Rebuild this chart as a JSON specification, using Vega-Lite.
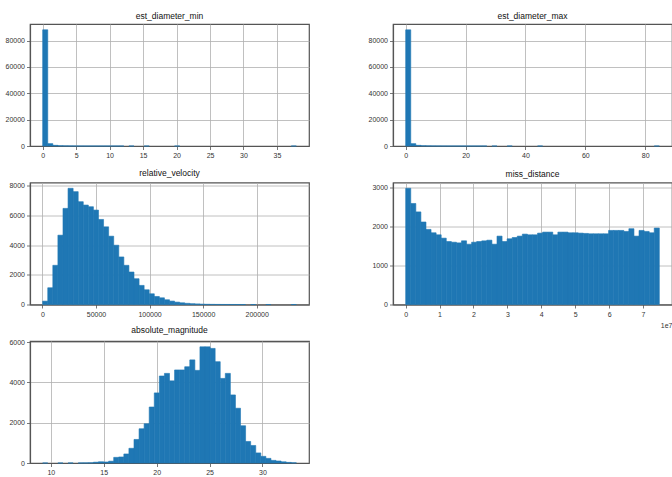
{
  "$schema": "https://vega.github.io/schema/vega-lite/v6.json",
  "padding": {"left": 4, "top": 10, "right": 0, "bottom": 0},
  "autosize": {"type": "pad"},
  "background": "white",
  "config": {
    "font": "Liberation Sans, sans-serif",
    "view": {"stroke": "#555555", "strokeWidth": 1.2},
    "title": {"font": "Liberation Sans, sans-serif", "fontSize": 8.5, "fontWeight": "normal", "color": "#111111", "offset": 4},
    "axis": {
      "labelFont": "Liberation Sans, sans-serif",
      "labelFontSize": 7,
      "labelColor": "#333333",
      "labelPadding": 2,
      "tickColor": "#555555",
      "tickSize": 3.5,
      "tickWidth": 0.8,
      "domain": true,
      "domainColor": "#555555",
      "domainWidth": 1.2,
      "grid": true,
      "gridColor": "#b0b0b0",
      "gridWidth": 0.8,
      "zindex": 1,
      "format": "d",
      "title": null
    },
    "bar": {"color": "#1f77b4", "stroke": "#1f77b4", "strokeWidth": 0.6}
  },
  "datasets": {
    "d1": [
      {"start": 0.0006, "end": 0.7584, "count": 88150},
      {"start": 0.7584, "end": 1.5163, "count": 1800},
      {"start": 1.5163, "end": 2.2741, "count": 500},
      {"start": 2.2741, "end": 3.032, "count": 180},
      {"start": 3.032, "end": 3.7898, "count": 90},
      {"start": 3.7898, "end": 4.5476, "count": 45},
      {"start": 4.5476, "end": 5.3055, "count": 25},
      {"start": 5.3055, "end": 6.0633, "count": 15},
      {"start": 6.0633, "end": 6.8212, "count": 10},
      {"start": 6.8212, "end": 7.579, "count": 6},
      {"start": 7.579, "end": 8.3369, "count": 4},
      {"start": 8.3369, "end": 9.0947, "count": 3},
      {"start": 9.0947, "end": 9.8525, "count": 2},
      {"start": 9.8525, "end": 10.6104, "count": 2},
      {"start": 10.6104, "end": 11.3682, "count": 1},
      {"start": 11.3682, "end": 12.1261, "count": 1},
      {"start": 12.8839, "end": 13.6418, "count": 1},
      {"start": 15.1574, "end": 15.9153, "count": 1},
      {"start": 19.7045, "end": 20.4623, "count": 1},
      {"start": 37.1348, "end": 37.8927, "count": 1}
    ],
    "d2": [
      {"start": 0.0014, "end": 1.6959, "count": 88150},
      {"start": 1.6959, "end": 3.3905, "count": 1800},
      {"start": 3.3905, "end": 5.0851, "count": 500},
      {"start": 5.0851, "end": 6.7797, "count": 180},
      {"start": 6.7797, "end": 8.4742, "count": 90},
      {"start": 8.4742, "end": 10.1688, "count": 45},
      {"start": 10.1688, "end": 11.8634, "count": 25},
      {"start": 11.8634, "end": 13.558, "count": 15},
      {"start": 13.558, "end": 15.2525, "count": 10},
      {"start": 15.2525, "end": 16.9471, "count": 6},
      {"start": 16.9471, "end": 18.6417, "count": 4},
      {"start": 18.6417, "end": 20.3363, "count": 3},
      {"start": 20.3363, "end": 22.0308, "count": 2},
      {"start": 22.0308, "end": 23.7254, "count": 2},
      {"start": 23.7254, "end": 25.42, "count": 1},
      {"start": 25.42, "end": 27.1146, "count": 1},
      {"start": 28.8091, "end": 30.5037, "count": 1},
      {"start": 33.8929, "end": 35.5875, "count": 1},
      {"start": 44.0604, "end": 45.755, "count": 1},
      {"start": 83.0359, "end": 84.7305, "count": 1}
    ],
    "d3": [
      {"start": 203, "end": 4939, "count": 226},
      {"start": 4939, "end": 9675, "count": 1130},
      {"start": 9675, "end": 14411, "count": 2644},
      {"start": 14411, "end": 19146, "count": 4678},
      {"start": 19146, "end": 23882, "count": 6486},
      {"start": 23882, "end": 28618, "count": 7842},
      {"start": 28618, "end": 33354, "count": 7616},
      {"start": 33354, "end": 38089, "count": 6938},
      {"start": 38089, "end": 42825, "count": 6712},
      {"start": 42825, "end": 47561, "count": 6599},
      {"start": 47561, "end": 52297, "count": 6373},
      {"start": 52297, "end": 57032, "count": 5740},
      {"start": 57032, "end": 61768, "count": 5243},
      {"start": 61768, "end": 66504, "count": 4610},
      {"start": 66504, "end": 71240, "count": 4000},
      {"start": 71240, "end": 75975, "count": 3209},
      {"start": 75975, "end": 80711, "count": 2644},
      {"start": 80711, "end": 85447, "count": 2192},
      {"start": 85447, "end": 90183, "count": 1740},
      {"start": 90183, "end": 94918, "count": 1288},
      {"start": 94918, "end": 99654, "count": 994},
      {"start": 99654, "end": 104390, "count": 723},
      {"start": 104390, "end": 109126, "count": 542},
      {"start": 109126, "end": 113861, "count": 452},
      {"start": 113861, "end": 118597, "count": 320},
      {"start": 118597, "end": 123333, "count": 230},
      {"start": 123333, "end": 128069, "count": 160},
      {"start": 128069, "end": 132804, "count": 115},
      {"start": 132804, "end": 137540, "count": 80},
      {"start": 137540, "end": 142276, "count": 55},
      {"start": 142276, "end": 147012, "count": 40},
      {"start": 147012, "end": 151747, "count": 25},
      {"start": 151747, "end": 156483, "count": 15},
      {"start": 156483, "end": 161219, "count": 10},
      {"start": 161219, "end": 165955, "count": 6},
      {"start": 165955, "end": 170690, "count": 4},
      {"start": 170690, "end": 175426, "count": 3},
      {"start": 175426, "end": 180162, "count": 2},
      {"start": 180162, "end": 184898, "count": 1},
      {"start": 184898, "end": 189633, "count": 1},
      {"start": 194369, "end": 199105, "count": 1},
      {"start": 208576, "end": 213312, "count": 1},
      {"start": 232255, "end": 236991, "count": 1}
    ],
    "d4": [
      {"start": 6746, "end": 1502584, "count": 2979},
      {"start": 1502584, "end": 2998422, "count": 2590},
      {"start": 2998422, "end": 4494260, "count": 2374},
      {"start": 4494260, "end": 5990098, "count": 2115},
      {"start": 5990098, "end": 7485936, "count": 1925},
      {"start": 7485936, "end": 8981774, "count": 1839},
      {"start": 8981774, "end": 10477612, "count": 1787},
      {"start": 10477612, "end": 11973450, "count": 1701},
      {"start": 11973450, "end": 13469288, "count": 1615},
      {"start": 13469288, "end": 14965127, "count": 1597},
      {"start": 14965127, "end": 16460965, "count": 1580},
      {"start": 16460965, "end": 17956803, "count": 1632},
      {"start": 17956803, "end": 19452641, "count": 1546},
      {"start": 19452641, "end": 20948479, "count": 1597},
      {"start": 20948479, "end": 22444317, "count": 1615},
      {"start": 22444317, "end": 23940155, "count": 1632},
      {"start": 23940155, "end": 25435993, "count": 1649},
      {"start": 25435993, "end": 26931831, "count": 1546},
      {"start": 26931831, "end": 28427669, "count": 1753},
      {"start": 28427669, "end": 29923508, "count": 1615},
      {"start": 29923508, "end": 31419346, "count": 1684},
      {"start": 31419346, "end": 32915184, "count": 1718},
      {"start": 32915184, "end": 34411022, "count": 1753},
      {"start": 34411022, "end": 35906860, "count": 1804},
      {"start": 35906860, "end": 37402698, "count": 1787},
      {"start": 37402698, "end": 38898536, "count": 1787},
      {"start": 38898536, "end": 40394374, "count": 1830},
      {"start": 40394374, "end": 41890212, "count": 1856},
      {"start": 41890212, "end": 43386050, "count": 1856},
      {"start": 43386050, "end": 44881889, "count": 1787},
      {"start": 44881889, "end": 46377727, "count": 1856},
      {"start": 46377727, "end": 47873565, "count": 1856},
      {"start": 47873565, "end": 49369403, "count": 1839},
      {"start": 49369403, "end": 50865241, "count": 1839},
      {"start": 50865241, "end": 52361079, "count": 1830},
      {"start": 52361079, "end": 53856917, "count": 1822},
      {"start": 53856917, "end": 55352755, "count": 1813},
      {"start": 55352755, "end": 56848593, "count": 1813},
      {"start": 56848593, "end": 58344431, "count": 1813},
      {"start": 58344431, "end": 59840270, "count": 1813},
      {"start": 59840270, "end": 61336108, "count": 1899},
      {"start": 61336108, "end": 62831946, "count": 1899},
      {"start": 62831946, "end": 64327784, "count": 1899},
      {"start": 64327784, "end": 65823622, "count": 1873},
      {"start": 65823622, "end": 67319460, "count": 1943},
      {"start": 67319460, "end": 68815298, "count": 1753},
      {"start": 68815298, "end": 70311136, "count": 1899},
      {"start": 70311136, "end": 71806974, "count": 1873},
      {"start": 71806974, "end": 73302812, "count": 1839},
      {"start": 73302812, "end": 74798651, "count": 1960}
    ],
    "d5": [
      {"start": 9.23, "end": 9.7094, "count": 1},
      {"start": 10.6682, "end": 11.1476, "count": 1},
      {"start": 11.627, "end": 12.1064, "count": 2},
      {"start": 12.5858, "end": 13.0652, "count": 3},
      {"start": 13.0652, "end": 13.5446, "count": 5},
      {"start": 13.5446, "end": 14.024, "count": 10},
      {"start": 14.024, "end": 14.5034, "count": 40},
      {"start": 14.5034, "end": 14.9828, "count": 60},
      {"start": 14.9828, "end": 15.4622, "count": 50},
      {"start": 15.4622, "end": 15.9416, "count": 90},
      {"start": 15.9416, "end": 16.421, "count": 280},
      {"start": 16.421, "end": 16.9004, "count": 300},
      {"start": 16.9004, "end": 17.3798, "count": 450},
      {"start": 17.3798, "end": 17.8592, "count": 730},
      {"start": 17.8592, "end": 18.3386, "count": 1170},
      {"start": 18.3386, "end": 18.818, "count": 1700},
      {"start": 18.818, "end": 19.2974, "count": 1950},
      {"start": 19.2974, "end": 19.7768, "count": 2780},
      {"start": 19.7768, "end": 20.2562, "count": 3480},
      {"start": 20.2562, "end": 20.7356, "count": 4320},
      {"start": 20.7356, "end": 21.215, "count": 4450},
      {"start": 21.215, "end": 21.6944, "count": 4080},
      {"start": 21.6944, "end": 22.1738, "count": 4620},
      {"start": 22.1738, "end": 22.6532, "count": 4620},
      {"start": 22.6532, "end": 23.1326, "count": 4780},
      {"start": 23.1326, "end": 23.612, "count": 5120},
      {"start": 23.612, "end": 24.0914, "count": 4600},
      {"start": 24.0914, "end": 24.5708, "count": 5770},
      {"start": 24.5708, "end": 25.0502, "count": 5770},
      {"start": 25.0502, "end": 25.5296, "count": 5690},
      {"start": 25.5296, "end": 26.009, "count": 5030},
      {"start": 26.009, "end": 26.4884, "count": 4200},
      {"start": 26.4884, "end": 26.9678, "count": 4450},
      {"start": 26.9678, "end": 27.4472, "count": 3380},
      {"start": 27.4472, "end": 27.9266, "count": 2720},
      {"start": 27.9266, "end": 28.406, "count": 1850},
      {"start": 28.406, "end": 28.8854, "count": 1070},
      {"start": 28.8854, "end": 29.3648, "count": 870},
      {"start": 29.3648, "end": 29.8442, "count": 500},
      {"start": 29.8442, "end": 30.3236, "count": 330},
      {"start": 30.3236, "end": 30.803, "count": 230},
      {"start": 30.803, "end": 31.2824, "count": 130},
      {"start": 31.2824, "end": 31.7618, "count": 100},
      {"start": 31.7618, "end": 32.2412, "count": 60},
      {"start": 32.2412, "end": 32.7206, "count": 30},
      {"start": 32.7206, "end": 33.2, "count": 10}
    ]
  },
  "columns": 2,
  "bounds": "flush",
  "spacing": {"row": 36.5, "column": 84},
  "concat": [
    {
      "title": "est_diameter_min",
      "width": 279, "height": 122,
      "data": {"name": "d1"},
      "mark": {"type": "bar", "color": "#1f77b4"},
      "encoding": {
        "x": {"field": "start", "type": "quantitative", "scale": {"domain": [-1.894, 39.787], "nice": false, "zero": false}, "axis": {"values": [0, 5, 10, 15, 20, 25, 30, 35]}},
        "x2": {"field": "end"},
        "y": {"field": "count", "type": "quantitative", "scale": {"domain": [0, 92558], "nice": false}, "axis": {"values": [0, 20000, 40000, 60000, 80000]}},
        "y2": {"datum": 0}
      }
    },
    {
      "title": "est_diameter_max",
      "width": 279, "height": 122,
      "data": {"name": "d2"},
      "mark": {"type": "bar", "color": "#1f77b4"},
      "encoding": {
        "x": {"field": "start", "type": "quantitative", "scale": {"domain": [-4.235, 88.967], "nice": false, "zero": false}, "axis": {"values": [0, 20, 40, 60, 80]}},
        "x2": {"field": "end"},
        "y": {"field": "count", "type": "quantitative", "scale": {"domain": [0, 92558], "nice": false}, "axis": {"values": [0, 20000, 40000, 60000, 80000]}},
        "y2": {"datum": 0}
      }
    },
    {
      "title": "relative_velocity",
      "width": 279, "height": 122,
      "data": {"name": "d3"},
      "mark": {"type": "bar", "color": "#1f77b4"},
      "encoding": {
        "x": {"field": "start", "type": "quantitative", "scale": {"domain": [-11636, 248830], "nice": false, "zero": false}, "axis": {"values": [0, 50000, 100000, 150000, 200000]}},
        "x2": {"field": "end"},
        "y": {"field": "count", "type": "quantitative", "scale": {"domain": [0, 8234], "nice": false}, "axis": {"values": [0, 2000, 4000, 6000, 8000]}},
        "y2": {"datum": 0}
      }
    },
    {
      "title": "miss_distance",
      "width": 279, "height": 122,
      "data": {"name": "d4"},
      "mark": {"type": "bar", "color": "#1f77b4"},
      "encoding": {
        "x": {"field": "start", "type": "quantitative", "scale": {"domain": [-3732849, 78538246], "nice": false, "zero": false}, "axis": {"values": [0, 10000000, 20000000, 30000000, 40000000, 50000000, 60000000, 70000000], "labelExpr": "format(datum.value / 10000000, 'd')", "title": "1e7", "titleAnchor": "end", "titleAlign": "right", "titleFontSize": 7, "titleFontWeight": "normal", "titleColor": "#333333", "titlePadding": 4, "titleFont": "Liberation Sans, sans-serif"}},
        "x2": {"field": "end"},
        "y": {"field": "count", "type": "quantitative", "scale": {"domain": [0, 3128], "nice": false}, "axis": {"values": [0, 1000, 2000, 3000]}},
        "y2": {"datum": 0}
      }
    },
    {
      "title": "absolute_magnitude",
      "width": 279, "height": 122,
      "data": {"name": "d5"},
      "mark": {"type": "bar", "color": "#1f77b4"},
      "encoding": {
        "x": {"field": "start", "type": "quantitative", "scale": {"domain": [8.0315, 34.3985], "nice": false, "zero": false}, "axis": {"values": [10, 15, 20, 25, 30]}},
        "x2": {"field": "end"},
        "y": {"field": "count", "type": "quantitative", "scale": {"domain": [0, 6058], "nice": false}, "axis": {"values": [0, 2000, 4000, 6000]}},
        "y2": {"datum": 0}
      }
    }
  ]
}
